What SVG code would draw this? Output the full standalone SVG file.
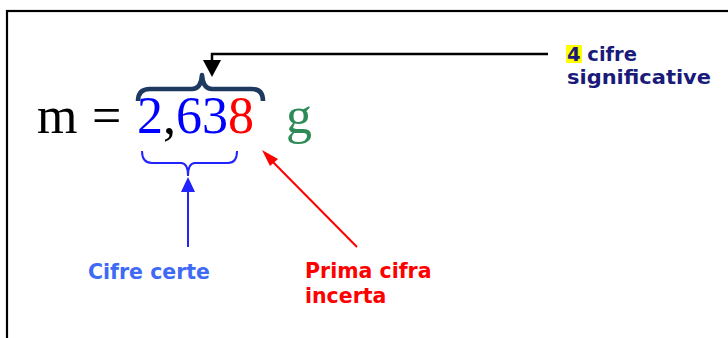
<svg xmlns="http://www.w3.org/2000/svg" width="728" height="338" viewBox="0 0 728 338">
<style>
.lbl{font-family:"DejaVu Sans",Verdana,sans-serif;font-weight:bold;font-size:20.5px}
.lbs{font-family:"DejaVu Sans",Verdana,sans-serif;font-weight:bold;font-size:19.5px}
.eq{font-family:"Liberation Serif","Times New Roman",serif;font-size:52px}
</style>
<rect x="7" y="11" width="740" height="350" fill="#fff" stroke="#000" stroke-width="2.2"/>
<g id="formula">
<text class="eq" y="133"><tspan x="37" fill="#000">m</tspan><tspan x="92" fill="#000">=</tspan><tspan x="137" fill="#0000ff">2</tspan><tspan fill="#000">,</tspan><tspan fill="#0000ff">63</tspan><tspan fill="#ff0000">8</tspan><tspan x="286" fill="#2e8b57">g</tspan></text>
</g>
<g id="brace-top">
<path d="M138,101 Q138,89 150,89 L192,89 Q201,89 202,75 Q203,89 212,89 L252,89 Q263,89 263,101" fill="none" stroke="#1f3a60" stroke-width="4.5" stroke-linejoin="round"/>
</g>
<g id="brace-bottom">
<path d="M142,151 Q142,163 152,163 L181,163 Q188,163 188,176 Q188,163 195,163 L228,163 Q237,163 237,151" fill="none" stroke="#2323ff" stroke-width="2"/>
</g>
<g id="label-significative">
<rect x="566" y="45" width="16" height="18" fill="#ffff00"/>
<text class="lbs" fill="#1a1a7a" x="567" y="61">4 cifre</text>
<text class="lbs" fill="#1a1a7a" x="567" y="84" textLength="144" lengthAdjust="spacingAndGlyphs">significative</text>
</g>
<g id="label-certe">
<text class="lbl" fill="#3f6af5" x="88" y="279">Cifre certe</text>
</g>
<g id="label-incerta">
<text class="lbl" fill="#ff0000" x="305" y="278">Prima cifra</text>
<text class="lbl" fill="#ff0000" x="305" y="303">incerta</text>
</g>
<g id="connectors">
<path d="M548,54 L212,54 L212,62" fill="none" stroke="#000" stroke-width="2.5"/>
<path d="M203,60 L221,60 L212,77 Z" fill="#000"/>
<line x1="188" y1="247" x2="188" y2="190" stroke="#2323ff" stroke-width="2"/>
<path d="M181,192 L195,192 L188,177 Z" fill="#2323ff"/>
<line x1="357" y1="247" x2="270" y2="159" stroke="#ff0000" stroke-width="2"/>
<path d="M262,150 L278,159 L270,166 Z" fill="#ff0000"/>
</g>
</svg>
